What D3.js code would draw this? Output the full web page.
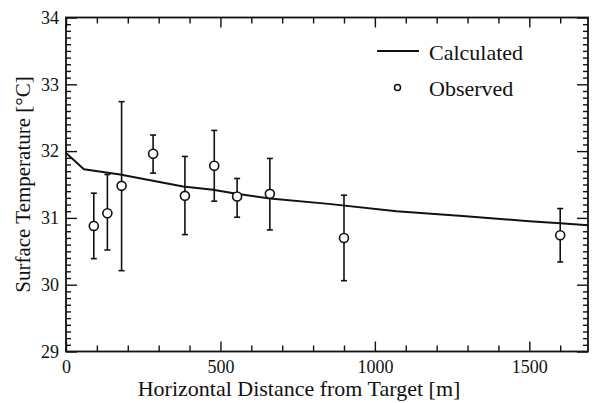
<!DOCTYPE html>
<html>
<head>
<meta charset="utf-8">
<script src="https://cdn.jsdelivr.net/npm/d3@7/dist/d3.min.js"></script>
<style>
  html, body { margin: 0; padding: 0; background: #fff; }
  svg { display: block; }
  text { font-family: "Liberation Serif", "DejaVu Serif", serif; fill: #111; }
</style>
</head>
<body>
<svg id="chart" width="592" height="403"></svg>
<script>
// ---- data ----
const obsDistance = [90, 134, 180, 282, 385, 480, 554, 660, 900, 1600];
const obsTemp     = [30.88, 31.07, 31.48, 31.96, 31.33, 31.78, 31.32, 31.36, 30.70, 30.74];
const obsHigh     = [31.37, 31.65, 32.74, 32.24, 31.92, 32.31, 31.59, 31.89, 31.34, 31.14];
const obsLow      = [30.39, 30.52, 30.21, 31.67, 30.75, 31.25, 31.01, 30.82, 30.06, 30.34];

const calcDistance = [0, 58, 175, 379, 476, 552, 660, 850, 1070, 1284, 1500, 1600, 1690];
const calcTemp     = [31.97, 31.73, 31.65, 31.47, 31.42, 31.36, 31.29, 31.21, 31.10, 31.03, 30.95, 30.92, 30.89];

const xMajorTicks = [0, 500, 1000, 1500];
const xMinorTicks = [100, 200, 300, 400, 600, 700, 800, 900, 1100, 1200, 1300, 1400, 1600];
const yMajorTicks = [29, 30, 31, 32, 33, 34];
const xDomain = [0, 1690];
const yDomain = [29, 34];

const legendLabels = ["Calculated", "Observed"];
const xTitle = "Horizontal Distance from Target [m]";
const yTitle = "Surface Temperature [°C]";

// ---- layout ----
const svg = d3.select("#chart");
const L = 66, R = 588, T = 17.5, B = 351.5;
const x = d3.scaleLinear().domain(xDomain).range([L, R]);
const y = d3.scaleLinear().domain(yDomain).range([B, T]);

const yMinorTicks = d3.range(yDomain[0] * 10, yDomain[1] * 10 + 1)
  .map(v => v / 10).filter(v => Math.abs(v - Math.round(v)) > 1e-6);

function styleAxis(g) {
  g.select(".domain").remove();
  g.selectAll(".tick line").attr("stroke", "#111").attr("stroke-width", 1.4);
}

// bottom axis: major with labels
svg.append("g").attr("transform", `translate(0,${B})`)
  .call(d3.axisBottom(x).tickValues(xMajorTicks).tickSizeInner(-10).tickSizeOuter(0).tickPadding(9).tickFormat(d3.format("d")))
  .call(styleAxis)
  .call(g => g.selectAll("text").attr("font-size", 18).attr("font-family", "Liberation Serif").attr("fill", "#111"));
svg.append("g").attr("transform", `translate(0,${B})`)
  .call(d3.axisBottom(x).tickValues(xMinorTicks).tickSizeInner(-6).tickSizeOuter(0).tickFormat(""))
  .call(styleAxis);
// top axis
svg.append("g").attr("transform", `translate(0,${T})`)
  .call(d3.axisTop(x).tickValues(xMajorTicks).tickSizeInner(-10).tickSizeOuter(0).tickFormat(""))
  .call(styleAxis);
svg.append("g").attr("transform", `translate(0,${T})`)
  .call(d3.axisTop(x).tickValues(xMinorTicks).tickSizeInner(-6).tickSizeOuter(0).tickFormat(""))
  .call(styleAxis);
// left axis
svg.append("g").attr("transform", `translate(${L},0)`)
  .call(d3.axisLeft(y).tickValues(yMajorTicks).tickSizeInner(-11).tickSizeOuter(0).tickPadding(7).tickFormat(d3.format("d")))
  .call(styleAxis)
  .call(g => g.selectAll("text").attr("font-size", 18).attr("font-family", "Liberation Serif").attr("fill", "#111"));
svg.append("g").attr("transform", `translate(${L},0)`)
  .call(d3.axisLeft(y).tickValues(yMinorTicks).tickSizeInner(-5).tickSizeOuter(0).tickFormat(""))
  .call(styleAxis);
// right axis
svg.append("g").attr("transform", `translate(${R},0)`)
  .call(d3.axisRight(y).tickValues(yMajorTicks).tickSizeInner(-11).tickSizeOuter(0).tickFormat(""))
  .call(styleAxis);
svg.append("g").attr("transform", `translate(${R},0)`)
  .call(d3.axisRight(y).tickValues(yMinorTicks).tickSizeInner(-5).tickSizeOuter(0).tickFormat(""))
  .call(styleAxis);

// frame
svg.append("rect").attr("x", L).attr("y", T).attr("width", R - L).attr("height", B - T)
  .attr("fill", "none").attr("stroke", "#111").attr("stroke-width", 1.8);

// calculated line
const line = d3.line().x(d => x(d[0])).y(d => y(d[1]));
svg.append("path")
  .datum(calcDistance.map((d, i) => [d, calcTemp[i]]))
  .attr("d", line).attr("fill", "none").attr("stroke", "#111").attr("stroke-width", 2)
  .attr("stroke-linejoin", "round");

// error bars
const obs = obsDistance.map((d, i) => ({ d, t: obsTemp[i], hi: obsHigh[i], lo: obsLow[i] }));
const eb = svg.append("g").attr("stroke", "#111").attr("stroke-width", 1.6);
eb.selectAll("line.v").data(obs).join("line").attr("class", "v")
  .attr("x1", o => x(o.d)).attr("x2", o => x(o.d)).attr("y1", o => y(o.hi)).attr("y2", o => y(o.lo));
eb.selectAll("line.ct").data(obs).join("line").attr("class", "ct")
  .attr("x1", o => x(o.d) - 3).attr("x2", o => x(o.d) + 3).attr("y1", o => y(o.hi)).attr("y2", o => y(o.hi));
eb.selectAll("line.cb").data(obs).join("line").attr("class", "cb")
  .attr("x1", o => x(o.d) - 3).attr("x2", o => x(o.d) + 3).attr("y1", o => y(o.lo)).attr("y2", o => y(o.lo));

// points
svg.append("g").selectAll("circle").data(obs).join("circle")
  .attr("cx", o => x(o.d)).attr("cy", o => y(o.t)).attr("r", 4.5)
  .attr("fill", "#fff").attr("stroke", "#111").attr("stroke-width", 1.6);

// legend
const lg = svg.append("g");
lg.append("line").attr("x1", 377).attr("x2", 419).attr("y1", 51).attr("y2", 51)
  .attr("stroke", "#111").attr("stroke-width", 2);
lg.append("text").attr("x", 429).attr("y", 60).attr("font-size", 22).text(legendLabels[0]);
lg.append("circle").attr("cx", 397.5).attr("cy", 87.5).attr("r", 3)
  .attr("fill", "#fff").attr("stroke", "#111").attr("stroke-width", 1.5);
lg.append("text").attr("x", 429).attr("y", 95.5).attr("font-size", 22).text(legendLabels[1]);

// axis titles
svg.append("text").attr("x", 299).attr("y", 396).attr("text-anchor", "middle")
  .attr("font-size", 22).text(xTitle);
svg.append("text").attr("transform", `translate(30,${(T + B) / 2}) rotate(-90)`)
  .attr("text-anchor", "middle").attr("font-size", 21).text(yTitle);
</script>
</body>
</html>
